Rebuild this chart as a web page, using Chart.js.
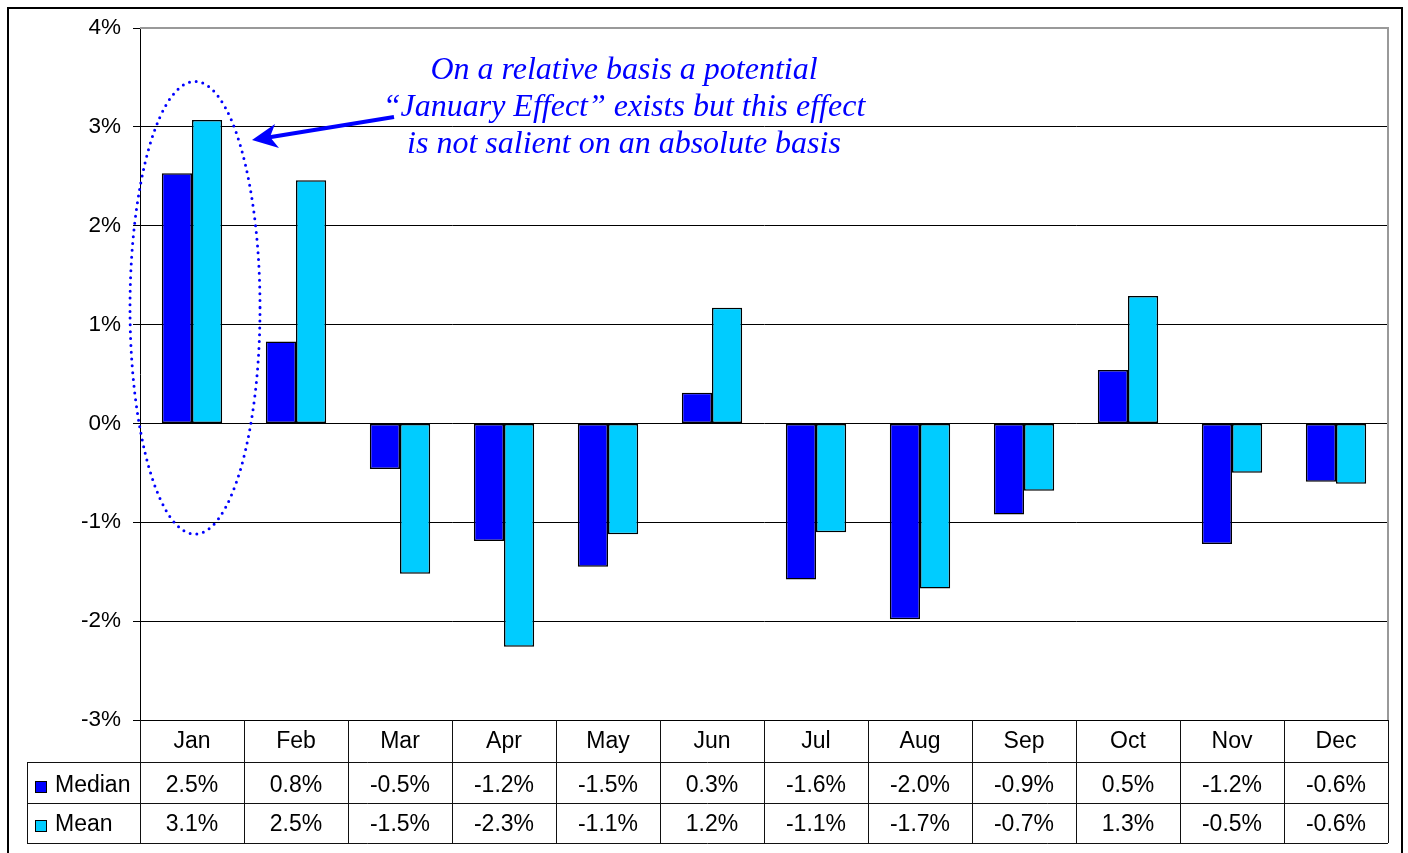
<!DOCTYPE html>
<html>
<head>
<meta charset="utf-8">
<script src="https://cdn.jsdelivr.net/npm/chart.js@4.4.1/dist/chart.umd.min.js"></script>
<style>
html,body{margin:0;padding:0;background:#fff;}
#wrap{width:1408px;height:853px;position:relative;}
</style>
</head>
<body>
<div id="wrap"><canvas id="c" width="1408" height="853"></canvas></div>
<script>
const months = ['Jan','Feb','Mar','Apr','May','Jun','Jul','Aug','Sep','Oct','Nov','Dec'];
const medianValues = [2.53, 0.83, -0.46, -1.19, -1.45, 0.31, -1.58, -1.98, -0.92, 0.54, -1.22, -0.59];
const meanValues = [3.07, 2.46, -1.52, -2.26, -1.12, 1.17, -1.10, -1.67, -0.68, 1.29, -0.50, -0.61];
const medianLabels = ['2.5%','0.8%','-0.5%','-1.2%','-1.5%','0.3%','-1.6%','-2.0%','-0.9%','0.5%','-1.2%','-0.6%'];
const meanLabels = ['3.1%','2.5%','-1.5%','-2.3%','-1.1%','1.2%','-1.1%','-1.7%','-0.7%','1.3%','-0.5%','-0.6%'];
const seriesNames = ['Median','Mean'];
const seriesColors = ['#0000FF','#00CCFF'];
const noteLines = ['On a relative basis a potential','\u201CJanuary Effect\u201D exists but this effect','is not salient on an absolute basis'];

const SANS = "'Liberation Sans', Arial, sans-serif";
const SERIF = "'Liberation Serif', 'Times New Roman', serif";

const extras = {
  id: 'extras',
  afterDraw(chart) {
    const ctx = chart.ctx;
    const ca = chart.chartArea;
    const xs = chart.scales.x;
    const ys = chart.scales.y;
    const colW = (ca.right - ca.left) / months.length;
    const r0 = ca.bottom, r1 = r0 + 42, r2 = r1 + 41, r3 = r2 + 40;
    const tableLeft = 27;
    ctx.save();
    // plot border (gray top & right)
    ctx.strokeStyle = '#999';
    ctx.lineWidth = 2;
    ctx.beginPath();
    ctx.moveTo(ca.left, ca.top);
    ctx.lineTo(ca.right, ca.top);
    ctx.lineTo(ca.right, ca.bottom);
    ctx.stroke();
    // table lines
    ctx.strokeStyle = '#111';
    ctx.lineWidth = 1;
    ctx.beginPath();
    for (let k = 0; k <= months.length; k++) {
      const x = Math.round(ca.left + k * colW) + 0.5;
      ctx.moveTo(x, r0); ctx.lineTo(x, r3);
    }
    ctx.moveTo(tableLeft + 0.5, r1); ctx.lineTo(tableLeft + 0.5, r3);
    [r1, r2, r3].forEach(y => { ctx.moveTo(tableLeft, Math.round(y) + 0.5); ctx.lineTo(ca.right, Math.round(y) + 0.5); });
    ctx.stroke();
    // table texts
    ctx.fillStyle = '#000';
    ctx.font = '23px ' + SANS;
    ctx.textAlign = 'center';
    ctx.textBaseline = 'alphabetic';
    const b0 = r0 + 28, b1 = r1 + 30, b2 = r2 + 28;
    months.forEach((m, i) => {
      const cx = xs.getPixelForValue(i);
      ctx.fillText(m, cx, b0);
      ctx.fillText(medianLabels[i], cx, b1);
      ctx.fillText(meanLabels[i], cx, b2);
    });
    // legend keys
    ctx.textAlign = 'left';
    [b1, b2].forEach((b, s) => {
      ctx.fillStyle = seriesColors[s];
      ctx.fillRect(35, b - 11, 12, 12);
      ctx.strokeStyle = '#000';
      ctx.strokeRect(35.5, b - 10.5, 11, 11);
      ctx.fillStyle = '#000';
      ctx.fillText(seriesNames[s], 55, b);
    });
    // outer border
    ctx.strokeStyle = '#000';
    ctx.lineWidth = 2;
    ctx.strokeRect(8, 8, 1394, 880);
    // annotation text
    ctx.fillStyle = '#0000FF';
    ctx.font = 'italic 32px ' + SERIF;
    ctx.textAlign = 'center';
    ctx.textBaseline = 'alphabetic';
    noteLines.forEach((t, i) => ctx.fillText(t, 624, 79 + i * 37));
    // dotted ellipse around January
    const ex = xs.getPixelForValue(0);
    const eTop = ys.getPixelForValue(3.46), eBot = ys.getPixelForValue(-1.12);
    ctx.strokeStyle = '#0000FF';
    ctx.lineWidth = 3;
    ctx.lineCap = 'round';
    ctx.setLineDash([0, 6.8]);
    ctx.beginPath();
    ctx.ellipse(ex + 3, (eTop + eBot) / 2, 65, (eBot - eTop) / 2, 0, 0, Math.PI * 2);
    ctx.stroke();
    ctx.setLineDash([]);
    // arrow
    const tipX = 252, tipY = 140;
    ctx.lineCap = 'butt';
    ctx.lineWidth = 4;
    ctx.beginPath();
    ctx.moveTo(394, 117);
    ctx.lineTo(268, 137.5);
    ctx.stroke();
    ctx.fillStyle = '#0000FF';
    ctx.beginPath();
    ctx.moveTo(tipX, tipY);
    ctx.lineTo(275, 124);
    ctx.lineTo(270, 137);
    ctx.lineTo(279, 148);
    ctx.closePath();
    ctx.fill();
    ctx.restore();
  }
};

new Chart(document.getElementById('c'), {
  type: 'bar',
  data: {
    labels: months,
    datasets: [
      { label: seriesNames[0], data: medianValues, backgroundColor: seriesColors[0], borderColor: '#000', borderWidth: 1.5, borderSkipped: false, categoryPercentage: 0.58, barPercentage: 1.0 },
      { label: seriesNames[1], data: meanValues, backgroundColor: seriesColors[1], borderColor: '#000', borderWidth: 1.5, borderSkipped: false, categoryPercentage: 0.58, barPercentage: 1.0 }
    ]
  },
  options: {
    responsive: false,
    animation: false,
    events: [],
    layout: { padding: { left: 0, top: 28, right: 20, bottom: 133 } },
    plugins: { legend: { display: false }, tooltip: { enabled: false } },
    scales: {
      x: { display: false, offset: true },
      y: {
        min: -3, max: 4,
        afterFit(scale) { scale.width = 140; },
        border: { display: true, color: '#000', width: 1 },
        grid: {
          color: (c) => (c.tick && c.tick.value === 4) ? 'rgba(0,0,0,0)' : '#000',
          lineWidth: 1,
          drawTicks: true,
          tickLength: 7,
          tickColor: '#000'
        },
        ticks: {
          stepSize: 1,
          padding: 12,
          color: '#000',
          font: { family: SANS, size: 22.5 },
          callback: (v) => v + '%'
        }
      }
    }
  },
  plugins: [extras]
});
</script>
</body>
</html>
